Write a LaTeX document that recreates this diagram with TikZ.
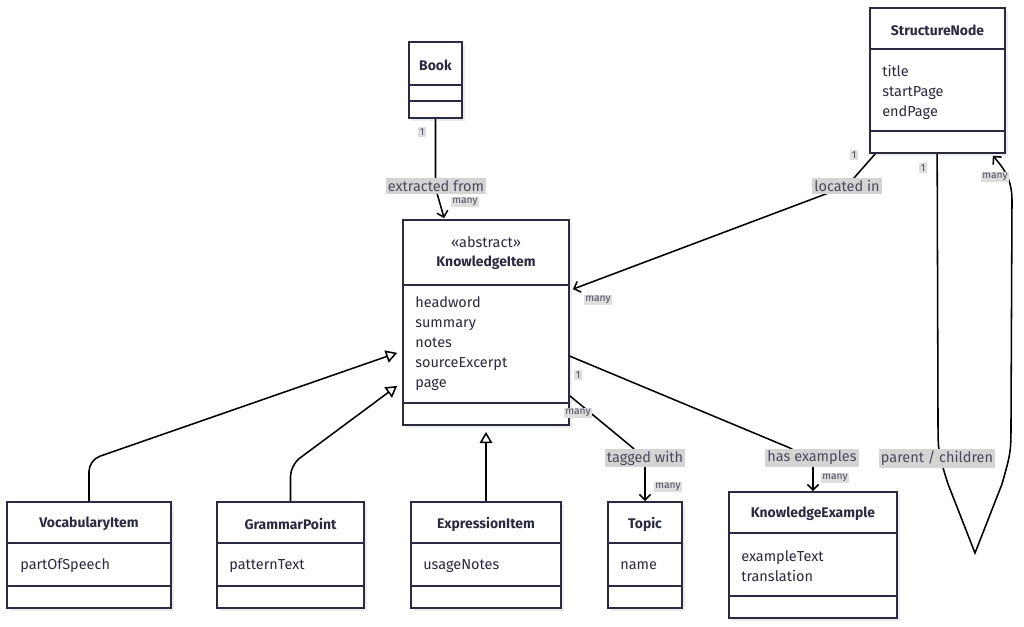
\documentclass[tikz,border=0pt]{standalone}
\usepackage{fontspec}
\setmainfont{Fira Sans}
\usetikzlibrary{arrows.meta, positioning, fit, calc}
\definecolor{inkblue}{RGB}{42,42,64}
\definecolor{labelgray}{RGB}{212,212,212}
\definecolor{multgray}{RGB}{222,222,222}
\definecolor{shadowgray}{RGB}{236,236,238}

% one UML class: name, left, top, right, bottom, first divider, second divider
\newcommand{\umlclass}[7]{%
  \fill[shadowgray] (#2+3,#3+3) rectangle (#4+3,#5+3);
  \node[classbox, fit={(#2,#3) (#4,#5)}] (#1) {};
  \draw[classline] (#2,#6) -- (#4,#6);
  \draw[classline] (#2,#7) -- (#4,#7);
}

\tikzset{
  classbox/.style={draw=inkblue, line width=1.2pt, inner sep=0pt, fill=white},
  classline/.style={draw=inkblue, line width=1.2pt},
  classtitle/.style={font=\fontsize{9.9}{12}\selectfont\bfseries, text=inkblue},
  attr/.style={anchor=west, font=\fontsize{10.3}{14.2}\selectfont, text=inkblue, inner sep=0pt, align=left},
  edgelabel/.style={fill=labelgray, text=inkblue!85, font=\fontsize{10.3}{12}\selectfont, inner sep=1.5pt},
  mult/.style={fill=multgray, text=inkblue!85, font=\fontsize{7.3}{8}\selectfont, inner sep=1pt},
  assoc/.style={line width=1.1pt, -{Straight Barb[length=4pt, width=8pt]}},
  inherit/.style={line width=1.1pt, rounded corners=8pt, -{Triangle[open, length=8pt, width=9pt]}},
}

\begin{document}
\begin{tikzpicture}[x=0.025cm, y=-0.025cm]
\useasboundingbox (0,0) rectangle (1024,626);

% Class boxes
\umlclass{book}{409}{42}{462}{118}{85}{101}
\umlclass{ki}{403}{220}{569}{425}{285}{403}
\umlclass{sn}{870}{8}{1005}{153}{49}{131}
\umlclass{vocab}{7}{502}{171}{608}{543}{586}
\umlclass{gp}{217}{502}{364}{608}{543}{586}
\umlclass{ei}{411}{502}{561}{608}{543}{586}
\umlclass{topic}{608}{502}{682}{608}{543}{586}
\umlclass{ke}{729}{492}{897}{618}{533}{596}

% Class texts
\node[classtitle] (bookname) at (435.5,65) {Book};
\node[font=\fontsize{10.3}{12}\selectfont, text=inkblue] (kistereo) at (486,242) {«abstract»};
\node[classtitle] (kiname) at (486,263) {KnowledgeItem};
\node[attr] (kiattr) at (415,344) {headword\\summary\\notes\\sourceExcerpt\\page};
\node[classtitle] (snname) at (937.5,30) {StructureNode};
\node[attr] (snattr) at (882,92) {title\\startPage\\endPage};
\node[classtitle] (vocabname) at (89,524) {VocabularyItem};
\node[attr] (vocabattr) at (20,566) {partOfSpeech};
\node[classtitle] (gpname) at (290.5,524) {GrammarPoint};
\node[attr] (gpattr) at (229,566) {patternText};
\node[classtitle] (einame) at (486,524) {ExpressionItem};
\node[attr] (eiattr) at (423,566) {usageNotes};
\node[classtitle] (topicname) at (645,524) {Topic};
\node[attr] (topicattr) at (620,566) {name};
\node[classtitle] (kename) at (813,514) {KnowledgeExample};
\node[attr] (keattr) at (741,566) {exampleText\\translation};

% Inheritance
\draw[inherit] (vocab.north) -- (89,460) -- ($(ki.south west)+(-5,-73)$);
\draw[inherit] (gp.north) -- (290.5,465) -- ($(ki.south west)+(-5,-40)$);
\draw[inherit] (ei.north) -- ($(ki.south)+(0,6)$);

% Associations
\draw[assoc] (book.south) -- (435.5,188) -- ($(ki.north west)+(42,-1)$);
\node[edgelabel] (lblextract) at (436,186) {extracted from};
\node[mult] (mbook1) at (422,132) {1};
\node[mult] (mbook2) at (465,202) {many};

\draw[assoc] ($(sn.south west)+(6,0)$) -- (847,186) -- ($(ki.north east)+(3,70)$);
\node[edgelabel] (lbllocated) at (847,186) {located in};
\node[mult] (msn1) at (854,155) {1};
\node[mult] (msn2) at (598,300) {many};

\draw[assoc] ($(sn.south west)+(68,0)$) -- (938,420) .. controls (938,452) .. (948,484) -- (975,553)
  -- (1002,484) .. controls (1011,452) .. (1011,420) -- (1012,200)
  .. controls (1012,178) and (1002,166) .. ($(sn.south east)+(-13,2)$);
\node[edgelabel] (lblparent) at (937,458) {parent / children};
\node[mult] (mself1) at (923,168) {1};
\node[mult] (mself2) at (995,177) {many};

\draw[assoc] ($(ki.south east)+(0,-30)$) -- (633,448) -- (645,462) -- (topic.north);
\node[edgelabel] (lbltagged) at (645,458) {tagged with};
\node[mult] (mtag1) at (578,413) {many};
\node[mult] (mtag2) at (668,487) {many};

\draw[assoc] ($(ki.north east)+(0,137)$) -- (790,448) -- (813,462) -- (ke.north);
\node[edgelabel] (lblexamples) at (812,458) {has examples};
\node[mult] (mex1) at (578,375) {1};
\node[mult] (mex2) at (835,478) {many};
\end{tikzpicture}
\end{document}
